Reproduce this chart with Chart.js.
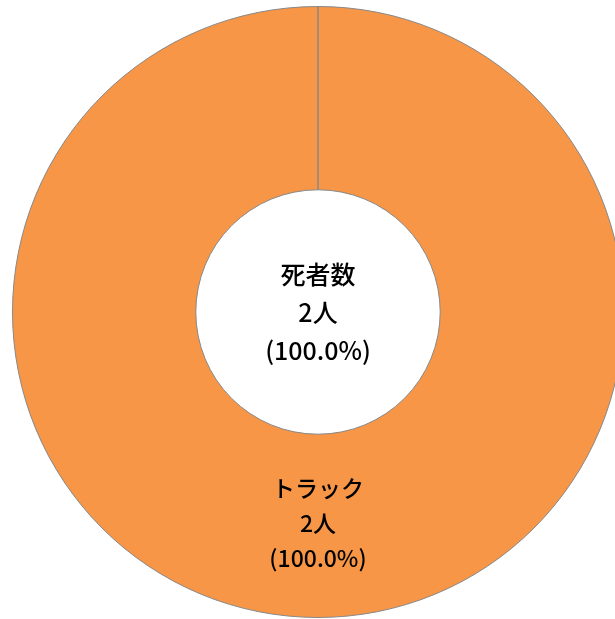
<!DOCTYPE html>
<html>
<head>
<meta charset="utf-8">
<script src="https://cdn.jsdelivr.net/npm/chart.js@4/dist/chart.umd.min.js"></script>
<style>
	html, body { margin: 0; padding: 0; background: #fff; overflow: hidden; width: 615px; height: 619px; }
	#myChartPie { position: absolute; left: 12px; top: 6px; }
</style>
</head>
<body>
<canvas id="myChartPie" width="612" height="612"></canvas>
<script>
var labels = ['トラック'];
var values = [2];
var colors = ['#F79646'];
var centerTitle = '死者数';
var unit = '人';

var fontFamily = '"Noto Sans CJK JP", "Noto Sans", sans-serif';
var total = values.reduce((a, b) => a + b, 0);

function pct(v) {
	return '(' + (v / total * 100).toFixed(1) + '%)';
}

// 中央と扇形のラベル
var labelPlugin = {
	id: 'labelPlugin',
	afterDraw(chart) {
		var ctx = chart.ctx;
		var arcs = chart.getDatasetMeta(0).data;
		ctx.save();
		ctx.fillStyle = '#000';
		ctx.textAlign = 'center';
		ctx.textBaseline = 'middle';
		ctx.font = '500 25px ' + fontFamily;
		var c = arcs[0];
		var cx = c.x, cy = c.y;
		var lines = [centerTitle, total + unit, pct(total)];
		lines.forEach((t, i) => ctx.fillText(t, cx, cy - 38 + i * 38));

		ctx.font = '500 23px ' + fontFamily;
		arcs.forEach((a, i) => {
			var p = a.tooltipPosition();
			var ls = [labels[i], values[i] + unit, pct(values[i])];
			ls.forEach((t, j) => ctx.fillText(t, p.x, p.y - 38 + j * 35));
		});
		ctx.restore();
	}
};

var ctxPie = document.getElementById('myChartPie').getContext('2d');
var myChartPie = new Chart(ctxPie, {
	type: 'doughnut',
	data: {
		labels: labels,
		datasets: [{
			data: values,
			backgroundColor: colors,
			borderColor: '#888888',
			borderWidth: 1
		}]
	},
	options: {
		responsive: false,
		animation: false,
		cutout: '40%',
		layout: { padding: 0 },
		plugins: {
			legend: { display: false },
			tooltip: { enabled: false }
		}
	},
	plugins: [labelPlugin]
});
</script>
</body>
</html>
